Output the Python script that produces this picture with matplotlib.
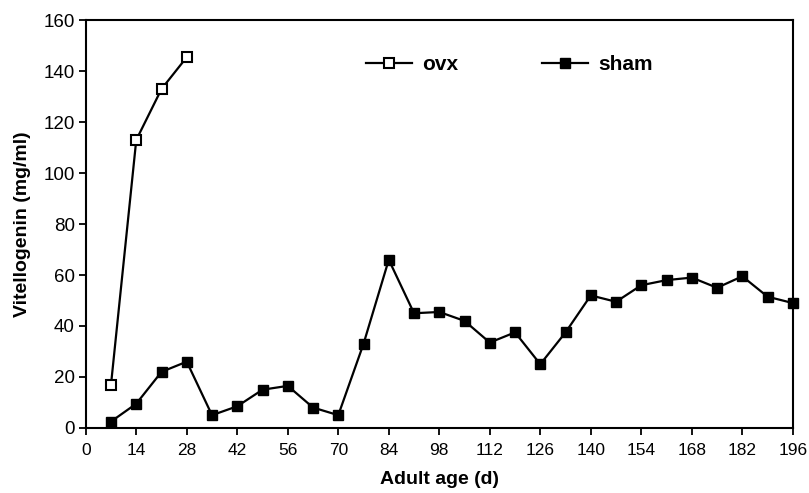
import matplotlib.pyplot as plt

# data
sham_days = [7, 14, 21, 28, 35, 42, 49, 56, 63, 70, 77, 84, 91, 98,
             105, 112, 119, 126, 133, 140, 147, 154, 161, 168, 175, 182, 189, 196]
sham_vtg = [2.5, 9.5, 22, 26, 5, 8.5, 15, 16.5, 8, 5, 33, 66, 45, 45.5,
            42, 33.5, 37.5, 25, 37.5, 52, 49.5, 56, 58, 59, 55, 59.5, 51.5, 49]
ovx_days = [7, 14, 21, 28]
ovx_vtg = [17, 113, 133, 145.5]
x_ticks = list(range(0, 197, 14))
y_ticks = list(range(0, 161, 20))

plt.rcParams['font.family'] = ['Liberation Sans', 'DejaVu Sans']

fig = plt.figure(figsize=(8.09, 4.93), dpi=100)
ax = fig.add_axes([0.106, 0.132, 0.874, 0.827])

ax.plot(ovx_days, ovx_vtg, color='black', lw=1.6, marker='s', markersize=6.5,
        markerfacecolor='white', markeredgecolor='black', markeredgewidth=1.5,
        label='ovx', clip_on=False, zorder=3)
ax.plot(sham_days, sham_vtg, color='black', lw=1.6, marker='s', markersize=6.5,
        markerfacecolor='black', markeredgecolor='black',
        label='sham', clip_on=False, zorder=3)

ax.set_xlim(0, 196)
ax.set_ylim(0, 160)
ax.set_xticks(x_ticks)
ax.set_yticks(y_ticks)
ax.tick_params(direction='out', length=5, width=1.3, labelsize=13.5)
ax.tick_params(axis='x', pad=6, labelsize=12.5)
ax.tick_params(axis='y', pad=3)
for s in ax.spines.values():
    s.set_linewidth(1.5)

ax.set_xlabel('Adult age (d)', fontsize=14, fontweight='bold', labelpad=9)
ax.set_ylabel('Vitellogenin (mg/ml)', fontsize=14, fontweight='bold', labelpad=9)

leg = ax.legend(loc='upper left', bbox_to_anchor=(0.37, 0.96), ncol=2, frameon=False,
                handlelength=2.2, columnspacing=4.0, handletextpad=0.5,
                prop={'weight': 'bold', 'size': 15})

fig.savefig('out.png', dpi=100)
